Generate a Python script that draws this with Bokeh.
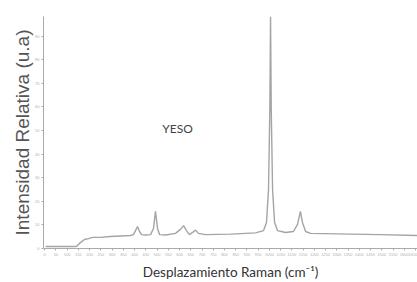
from bokeh.plotting import figure
from bokeh.models import Label, Range1d, FixedTicker
from bokeh.embed import file_html
from bokeh.resources import INLINE

# Raman shift (cm-1) and relative intensity
shift = [4, 141, 159, 177, 195, 213, 248, 293, 337, 382, 395, 404, 413, 422, 431,
         449, 471, 484, 493, 502, 511, 538, 582, 604, 618, 631, 644, 658, 671, 684,
         716, 827, 938, 974, 987, 996, 1002, 1005, 1008, 1014, 1023, 1036, 1072, 1107, 1125,
         1138, 1147, 1161, 1183, 1361, 1494, 1659]
intensity = [0.85, 0.85, 2.5, 3.8, 4.2, 4.7, 4.7, 5.1, 5.3, 5.5, 5.9, 7.6, 9.3, 7.2, 5.9,
             5.7, 5.9, 8.5, 15.7, 8.5, 5.9, 5.7, 6.4, 8.1, 9.7, 7.6, 5.9, 6.8, 7.8, 6.4,
             5.9, 6.1, 6.6, 7.6, 11.0, 25.0, 60.0, 98.3, 60.0, 25.0, 11.0, 7.6, 6.8, 7.2, 10.2,
             15.7, 11.0, 7.2, 6.4, 6.1, 5.9, 5.5]

x_ticks = list(range(0, 1700, 50))
y_ticks = list(range(0, 100, 10))

p = figure(width=417, height=282, output_backend="svg", toolbar_location=None,
           min_border_left=43, min_border_right=0, min_border_top=16, min_border_bottom=34,
           x_range=Range1d(-5.4, 1659), y_range=Range1d(0, 98.3))
p.outline_line_color = None
p.xgrid.grid_line_color = None
p.ygrid.grid_line_color = None
p.background_fill_color = "white"
p.border_fill_color = "white"

p.line(shift, intensity, line_color="#a4a4a4", line_width=1.4)

for ax in (p.xaxis[0], p.yaxis[0]):
    ax.axis_line_color = "#aaaaaa"
    ax.major_tick_line_color = "#aaaaaa"
    ax.minor_tick_line_color = None
    ax.major_tick_in = 0
    ax.major_tick_out = 2
    ax.major_label_text_font_size = "4px"
    ax.major_label_text_color = "#b0b0b0"
    ax.major_label_standoff = 2
p.xaxis[0].ticker = FixedTicker(ticks=x_ticks)
p.yaxis[0].ticker = FixedTicker(ticks=y_ticks)

p.yaxis[0].axis_label = "Intensidad Relativa (u.a)"
p.yaxis[0].axis_label_text_font = "Liberation Sans"
p.yaxis[0].axis_label_text_font_size = "19px"
p.yaxis[0].axis_label_text_font_style = "normal"
p.yaxis[0].axis_label_text_color = "#555555"
p.yaxis[0].axis_label_standoff = -1

p.xaxis[0].axis_label = "Desplazamiento Raman (cm⁻¹)"
p.xaxis[0].axis_label_text_font = "Lato"
p.xaxis[0].axis_label_text_font_size = "13.5px"
p.xaxis[0].axis_label_text_font_style = "normal"
p.xaxis[0].axis_label_text_color = "#333333"
p.xaxis[0].axis_label_standoff = 5

p.add_layout(Label(x=134, y=120, x_units="screen", y_units="screen",
                   text="YESO", text_align="center", text_baseline="middle",
                   text_font="Lato", text_font_size="12px", text_color="#444444"))

open("out.html", "w").write(file_html(p, INLINE))
